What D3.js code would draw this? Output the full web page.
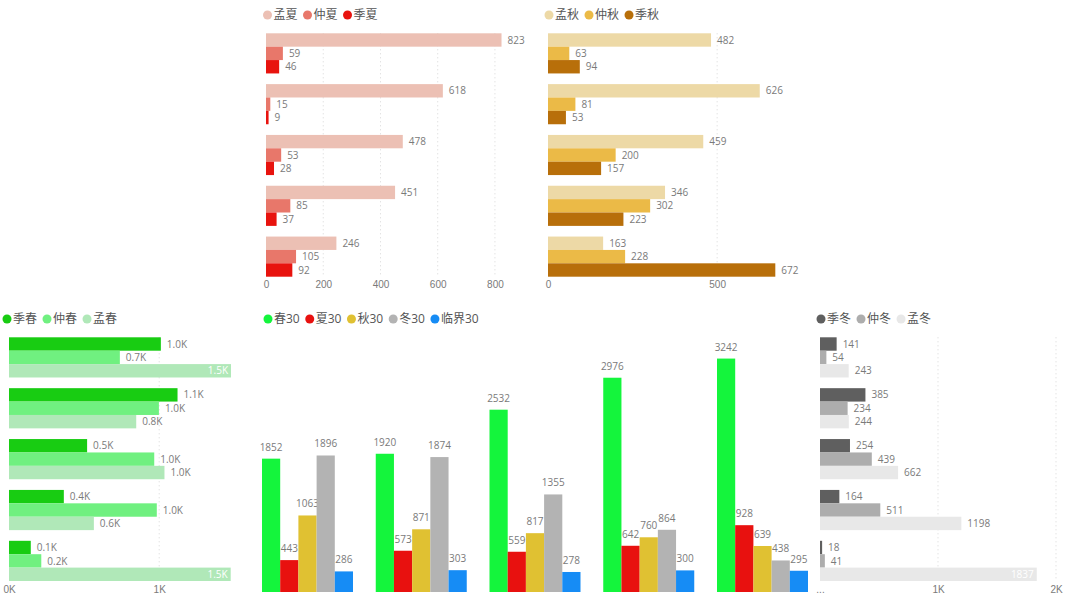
<!DOCTYPE html>
<html>
<head>
<meta charset="utf-8">
<script src="https://cdn.jsdelivr.net/npm/d3@7"></script>
<style>
  html, body { margin: 0; padding: 0; background: #fff; }
  svg { display: block; font-family: 'Open Sans', 'Noto Sans CJK SC', sans-serif; }
  .lbl { font-size: 10px; fill: #7a7a7a; }
  .tick text { font-size: 10px; fill: #7a7a7a; }
  .legend text { font-size: 12px; fill: #555; }
</style>
</head>
<body>
<svg width="1080" height="605"></svg>
<script>
const svg = d3.select('svg');

// rows (y axis hidden in the reference)
const rows = ['1', '2', '3', '4', '5'];

// summer
const summerKeys = ['孟夏', '仲夏', '季夏'];
const summerColors = ['#ECC0B4', '#E8776A', '#E8130E'];
const summerValues = [
  [823, 618, 478, 451, 246],
  [59, 15, 53, 85, 105],
  [46, 9, 28, 37, 92]
];
const summerTicks = [0, 200, 400, 600, 800];

// autumn
const autumnKeys = ['孟秋', '仲秋', '季秋'];
const autumnColors = ['#EDD9A6', '#EBBA47', '#B86F0A'];
const autumnValues = [
  [482, 626, 459, 346, 163],
  [63, 81, 200, 302, 228],
  [94, 53, 157, 223, 672]
];
const autumnTicks = [0, 500];

// spring
const springKeys = ['季春', '仲春', '孟春'];
const springColors = ['#18CC12', '#70F080', '#B0E8B8'];
const springValues = [
  [1011, 1122, 520, 365, 145],
  [738, 998, 967, 984, 215],
  [1478, 847, 1035, 565, 1476]
];
const springTicks = [0, 1000];

// winter
const winterKeys = ['季冬', '仲冬', '孟冬'];
const winterColors = ['#5F5F5F', '#ADADAD', '#E8E8E8'];
const winterValues = [
  [141, 385, 254, 164, 18],
  [54, 234, 439, 511, 41],
  [243, 244, 662, 1198, 1837]
];
const winterTicks = [0, 1000, 2000];
const winterTickLabels = ['...', '1K', '2K'];

// columns
const colKeys = ['春30', '夏30', '秋30', '冬30', '临界30'];
const colColors = ['#14F53C', '#E8110F', '#E0C132', '#B3B3B3', '#168CF5'];
const colValues = [
  [1852, 1920, 2532, 2976, 3242],
  [443, 573, 559, 642, 928],
  [1063, 871, 817, 760, 639],
  [1896, 1874, 1355, 864, 438],
  [286, 303, 278, 300, 295]
];

const drawLegend = (x, y, keys, colors) => {
  const g = svg.append('g').attr('class', 'legend');
  let cx = x;
  keys.forEach((k, i) => {
    g.append('circle').attr('cx', cx).attr('cy', y).attr('r', 4.5).attr('fill', colors[i]);
    const t = g.append('text').attr('x', cx + 6).attr('y', y).attr('dy', '0.36em').text(k);
    cx = cx + 6 + t.node().getComputedTextLength() + 10;
  });
};

const drawHBars = (props) => {
  const { keys, colors, values, xRange, yRange, domain, ticks, tickFmt, labelFmt, tickY, legendX, legendY } = props;

  const xScale = d3.scaleLinear().domain(domain).range(xRange);
  const yScale = d3.scaleBand().domain(rows).range(yRange).paddingInner(0.21);
  const ySub = d3.scaleBand().domain(keys).range([0, yScale.bandwidth()]);

  const g = svg.append('g');

  // dotted gridlines
  g.selectAll('.grid').data(ticks.filter(t => t > 0)).enter().append('line')
    .attr('x1', d => xScale(d)).attr('x2', d => xScale(d))
    .attr('y1', yRange[0]).attr('y2', yRange[1])
    .attr('stroke', '#d6d6d6').attr('stroke-dasharray', '1,3');

  const axisG = g.append('g').attr('transform', `translate(0,${tickY})`)
    .call(d3.axisBottom(xScale).tickValues(ticks).tickFormat(tickFmt).tickSize(0).tickPadding(0));
  axisG.select('.domain').remove();

  keys.forEach((k, si) => {
    const sg = g.append('g');
    sg.selectAll('rect').data(values[si]).enter().append('rect')
      .attr('x', xScale(0))
      .attr('y', (d, i) => yScale(rows[i]) + ySub(k))
      .attr('width', d => xScale(d) - xScale(0))
      .attr('height', ySub.bandwidth())
      .attr('fill', colors[si]);

    sg.selectAll('text').data(values[si]).enter().append('text')
      .attr('class', 'lbl')
      .attr('y', (d, i) => yScale(rows[i]) + ySub(k) + ySub.bandwidth() / 2)
      .attr('dy', '0.36em')
      .text(d => labelFmt(d))
      .each(function(d) {
        const w = this.getComputedTextLength();
        const sel = d3.select(this);
        if (xScale(d) + 6 + w > xRange[1] + 2) {
          sel.attr('x', xScale(d) - 3).attr('text-anchor', 'end').style('fill', '#fff');
        } else {
          sel.attr('x', xScale(d) + 6);
        }
      });
  });

  drawLegend(legendX, legendY, keys, colors);
};

const kFmt = d => (d / 1000).toFixed(1) + 'K';

drawHBars({
  keys: summerKeys, colors: summerColors, values: summerValues,
  xRange: [266, 533], yRange: [33.3, 276.7], domain: [0, 933],
  ticks: summerTicks, tickFmt: d3.format('d'), labelFmt: d3.format('d'),
  tickY: 281, legendX: 267.5, legendY: 15
});

drawHBars({
  keys: autumnKeys, colors: autumnColors, values: autumnValues,
  xRange: [548, 800], yRange: [33.3, 276.7], domain: [0, 745],
  ticks: autumnTicks, tickFmt: d3.format('d'), labelFmt: d3.format('d'),
  tickY: 281, legendX: 549, legendY: 15
});

drawHBars({
  keys: springKeys, colors: springColors, values: springValues,
  xRange: [9, 231], yRange: [337.3, 581], domain: [0, 1478],
  ticks: springTicks, tickFmt: d => (d / 1000) + 'K', labelFmt: kFmt,
  tickY: 586, legendX: 7, legendY: 319
});

drawHBars({
  keys: winterKeys, colors: winterColors, values: winterValues,
  xRange: [820, 1056], yRange: [337.3, 581], domain: [0, 2000],
  ticks: winterTicks, tickFmt: (d, i) => winterTickLabels[i], labelFmt: d3.format('d'),
  tickY: 586, legendX: 821, legendY: 319
});

// clustered columns
const drawColumns = () => {
  const xScale = d3.scaleBand().domain(rows).range([262, 808]).paddingInner(0.2);
  const xSub = d3.scaleBand().domain(colKeys).range([0, xScale.bandwidth()]);
  const yScale = d3.scaleLinear().domain([0, 3500]).range([592, 340]);

  const g = svg.append('g');
  colKeys.forEach((k, si) => {
    const sg = g.append('g');
    sg.selectAll('rect').data(colValues[si]).enter().append('rect')
      .attr('x', (d, i) => xScale(rows[i]) + xSub(k))
      .attr('y', d => yScale(d))
      .attr('width', xSub.bandwidth())
      .attr('height', d => yScale(0) - yScale(d))
      .attr('fill', colColors[si]);
    sg.selectAll('text').data(colValues[si]).enter().append('text')
      .attr('class', 'lbl')
      .attr('x', (d, i) => xScale(rows[i]) + xSub(k) + xSub.bandwidth() / 2)
      .attr('y', d => yScale(d) - 8)
      .attr('text-anchor', 'middle')
      .text(d => d);
  });

  drawLegend(268, 319, colKeys, colColors);
};
drawColumns();
</script>
</body>
</html>
